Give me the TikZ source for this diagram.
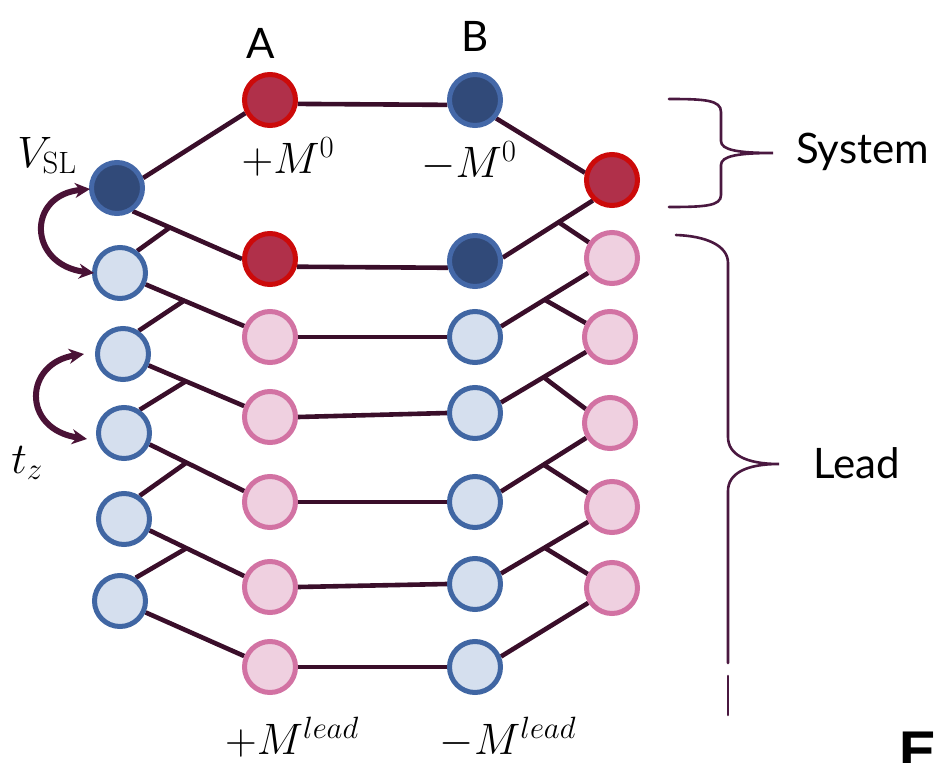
\RequirePackage{fix-cm}
\documentclass[tikz,border=0pt]{standalone}
\usepackage{fontspec}
\newfontfamily\labelfont{Lato}
\newfontfamily\efont{Liberation Sans}
\usetikzlibrary{arrows.meta,calc}

\definecolor{darkfill}{HTML}{314A79}
\definecolor{darkline}{HTML}{4468A8}
\definecolor{redfill}{HTML}{B0304A}
\definecolor{redline}{HTML}{CC0A0A}
\definecolor{lbluefill}{HTML}{D5DFEE}
\definecolor{lblueline}{HTML}{4066A3}
\definecolor{pinkfill}{HTML}{EFD0E0}
\definecolor{pinkline}{HTML}{D272A3}
\definecolor{bondcol}{HTML}{3A0E2A}
\definecolor{hopcol}{HTML}{4A1236}
\definecolor{bracecol}{HTML}{4A1840}

\pgfdeclarelayer{bonds}
\pgfsetlayers{bonds,main}

\begin{document}
\begin{tikzpicture}[x=1pt,y=-1pt,
  site/.style={circle, minimum size=51pt, inner sep=0pt, line width=5pt},
  sysA/.style={site, draw=redline, fill=redfill},
  sysB/.style={site, draw=darkline, fill=darkfill},
  leadA/.style={site, draw=pinkline, fill=pinkfill},
  leadB/.style={site, draw=lblueline, fill=lbluefill},
  bond/.style={line width=4.6pt, draw=bondcol},
  hop/.style={line width=6pt, draw=hopcol,
    {Stealth[length=15pt,width=15pt]}-{Stealth[length=15pt,width=15pt]}},
  brace/.style={line width=2.6pt, draw=bracecol, line cap=round},
  mathlbl/.style={inner sep=0pt, anchor=base, font=\fontsize{44}{50}\selectfont},
  word/.style={inner sep=0pt, font=\labelfont\fontsize{42}{48}\selectfont}]

\useasboundingbox (0,0) rectangle (935,763);
\clip (0,0) rectangle (935,763);

% ---- sites: left column, A column, B column, right column
\node[sysB]  (L0) at (117,188) {};
\node[leadB] (L1) at (120,273) {};
\node[leadB] (L2) at (123,354) {};
\node[leadB] (L3) at (124,433) {};
\node[leadB] (L4) at (124,519) {};
\node[leadB] (L5) at (120,601) {};

\node[sysA]  (A0) at (270,100) {};
\node[sysA]  (A1) at (270,259) {};
\node[leadA] (A2) at (270,337) {};
\node[leadA] (A3) at (270,417) {};
\node[leadA] (A4) at (270,502) {};
\node[leadA] (A5) at (270,587) {};
\node[leadA] (A6) at (270,667) {};

\node[sysB]  (B0) at (475,100) {};
\node[sysB]  (B1) at (475,261) {};
\node[leadB] (B2) at (475,337) {};
\node[leadB] (B3) at (475,413) {};
\node[leadB] (B4) at (475,502) {};
\node[leadB] (B5) at (475,584) {};
\node[leadB] (B6) at (475,667) {};

\node[sysA]  (R0) at (612,180) {};
\node[leadA] (R1) at (612,258) {};
\node[leadA] (R2) at (610,337) {};
\node[leadA] (R3) at (610,423) {};
\node[leadA] (R4) at (612,507) {};
\node[leadA] (R5) at (612,588) {};

% ---- bonds, drawn beneath the sites
\begin{pgfonlayer}{bonds}
  \fill[white] (0,0) rectangle (935,763);
  % system ring
  \draw[bond] (L0.21) -- (A0.-152);
  \draw[bond] (A0.-8) -- (B0.190);
  \draw[bond] (B0.-41) -- (R0.165);
  \draw[bond] (L0.-56) -- (A1.180);
  \draw[bond] (A1.-16) -- (B1.194);
  \draw[bond] (B1.7) -- (R0.-133);
  \coordinate (jl0) at ($(L0.-56)!0.34!(A1.180)$);
  \coordinate (jr0) at ($(B1.7)!0.62!(R0.-133)$);
  \draw[bond] (jl0) -- (L1.52);
  \draw[bond] (jr0) -- (R1.146);
  % lead layers
  \foreach \k/\n in {1/2,2/3,3/4,4/5,5/6} {
    \draw[bond] (L\k.-24) -- (A\n.157);
    \draw[bond] (A\n.east) -- (B\n.west);
  }
  \foreach \r/\p in {2/1,3/2,4/3,5/4,6/5} {
    \draw[bond] (B\r.22) -- (R\p.-148);
  }
  \foreach \k/\n in {1/2,2/3,3/4,4/5} {
    \coordinate (jl\k) at ($(L\k.-24)!0.39!(A\n.157)$);
    \draw[bond] (jl\k) -- (L\n.56);
  }
  \foreach \r/\p in {2/1,3/2,4/3,5/4} {
    \coordinate (jr\r) at ($(B\r.22)!0.5!(R\p.-148)$);
    \draw[bond] (jr\r) -- (R\r.150);
  }
\end{pgfonlayer}

% ---- hopping arrows
\coordinate (v1) at ([xshift=1pt,yshift=-1pt]L0.west);
\coordinate (v2) at ([xshift=2pt]L1.west);
\draw[hop] (v1) .. controls +(-64,6) and +(-66,-8) .. (v2);
\coordinate (t1) at ([xshift=-11pt]L2.west);
\coordinate (t2) at ([xshift=-9pt,yshift=-6pt]L3.west);
\draw[hop] (t1) .. controls +(-60,9) and +(-66,-10) .. (t2);

% ---- labels
\node[word] (labA) at (261,43) {A};
\node[word] (labB) at (475,36) {B};
\node[mathlbl] (mA) at (288,173) {$+M^0$};
\node[mathlbl] (mB) at (469,177) {$-M^0$};
\node[mathlbl] (vsl) at (47,167) {$V_{\mathrm{SL}}$};
\node[mathlbl] (tz) at (27,473) {$t_z$};
\node[mathlbl] (mlA) at (292,754) {$+M^{lead}$};
\node[mathlbl] (mlB) at (508,754) {$-M^{lead}$};
\node[word, anchor=base west] (sys) at (796,163) {System};
\node[word, anchor=base west] (lead) at (813,478) {Lead};
\node[inner sep=0pt, anchor=base west,
      font=\efont\bfseries\fontsize{56}{60}\selectfont] (pe) at (899,770) {E};

% ---- braces
\draw[brace] (669,99) .. controls (705,99) and (721,100) .. (721,112)
  -- (721,141) .. controls (721,150) and (738,153) .. (773,153)
  .. controls (738,153) and (721,156) .. (721,165)
  -- (721,195) .. controls (721,206) and (705,207) .. (669,207);
\draw[brace] (676,235) .. controls (705,236) and (728,245) .. (728,263)
  -- (728,437) .. controls (728,454) and (745,464) .. (779,464)
  .. controls (745,464) and (728,474) .. (728,491)
  -- (728,663);
\draw[brace] (728,676) -- (728,715);
\end{tikzpicture}
\end{document}
